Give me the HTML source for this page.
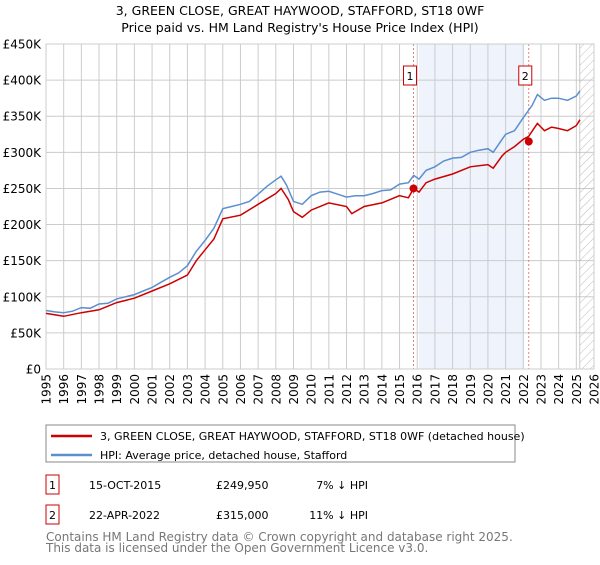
<!DOCTYPE html>
<html><head><meta charset="utf-8"><style>
body{margin:0;background:#fff;font-family:"Liberation Sans","DejaVu Sans",sans-serif;}
svg text{font-family:"DejaVu Sans","Liberation Sans",sans-serif;}
</style></head><body>
<svg id="c" width="600" height="560" xmlns="http://www.w3.org/2000/svg">
<text x="300" y="15" text-anchor="middle" font-size="12.5">3, GREEN CLOSE, GREAT HAYWOOD, STAFFORD, ST18 0WF</text>
<text x="300" y="32" text-anchor="middle" font-size="12.5">Price paid vs. HM Land Registry's House Price Index (HPI)</text>
<g id="plot"></g>
<rect x="46" y="425" width="469" height="37" fill="#fff" stroke="#888"/>
<line x1="51" y1="436" x2="92" y2="436" stroke="#cc0000" stroke-width="2.5"/>
<text x="100" y="440" font-size="11">3, GREEN CLOSE, GREAT HAYWOOD, STAFFORD, ST18 0WF (detached house)</text>
<line x1="51" y1="455" x2="92" y2="455" stroke="#5b8fd0" stroke-width="2.5"/>
<text x="100" y="459" font-size="11">HPI: Average price, detached house, Stafford</text>
<g>
<rect x="46" y="475" width="13" height="19" fill="#fff" stroke="#cc0000"/>
<text x="52.5" y="489" text-anchor="middle" font-size="11">1</text>
<text x="89" y="489" font-size="11">15-OCT-2015</text>
<text x="216" y="489" font-size="11">£249,950</text>
<text x="368" y="489" text-anchor="end" font-size="11">7% ↓ HPI</text></g>
<g>
<rect x="46" y="505" width="13" height="19" fill="#fff" stroke="#cc0000"/>
<text x="52.5" y="519" text-anchor="middle" font-size="11">2</text>
<text x="89" y="519" font-size="11">22-APR-2022</text>
<text x="216" y="519" font-size="11">£315,000</text>
<text x="368" y="519" text-anchor="end" font-size="11">11% ↓ HPI</text></g>
<text x="46" y="541" font-size="12" fill="#777">Contains HM Land Registry data © Crown copyright and database right 2025.</text>
<text x="46" y="552" font-size="12" fill="#777">This data is licensed under the Open Government Licence v3.0.</text>
</svg>
<script>
const yTicks=[0,50000,100000,150000,200000,250000,300000,350000,400000,450000];
const yTickLabels=["£0","£50K","£100K","£150K","£200K","£250K","£300K","£350K","£400K","£450K"];
const xYears=[1995,1996,1997,1998,1999,2000,2001,2002,2003,2004,2005,2006,2007,2008,2009,2010,2011,2012,2013,2014,2015,2016,2017,2018,2019,2020,2021,2022,2023,2024,2025,2026];
const hpiT=[1995,1995.5,1996,1996.5,1997,1997.5,1998,1998.5,1999,1999.5,2000,2000.5,2001,2001.5,2002,2002.5,2003,2003.5,2004,2004.5,2005,2005.5,2006,2006.5,2007,2007.5,2008,2008.3,2008.6,2009,2009.5,2010,2010.5,2011,2011.5,2012,2012.5,2013,2013.5,2014,2014.5,2015,2015.5,2015.8,2016.1,2016.5,2017,2017.5,2018,2018.5,2019,2019.5,2020,2020.3,2020.8,2021,2021.5,2022,2022.5,2022.8,2023.2,2023.6,2024,2024.5,2025,2025.2];
const hpiV=[81,79,78,80,85,84,90,91,97,100,103,108,113,120,127,133,143,163,178,195,222,225,228,232,242,253,262,267,255,232,228,240,245,246,242,238,240,240,243,247,248,256,258,268,263,275,280,288,292,293,300,303,305,300,318,325,330,348,365,380,372,375,375,372,378,385];
const propT=[1995,1996,1997,1998,1999,2000,2001,2002,2003,2003.5,2004,2004.5,2005,2006,2007,2008,2008.3,2008.7,2009,2009.5,2010,2011,2012,2012.3,2013,2014,2015,2015.5,2015.8,2016.1,2016.5,2017,2018,2019,2020,2020.3,2020.8,2021,2021.5,2022,2022.3,2022.8,2023.2,2023.6,2024,2024.5,2025,2025.2];
const propV=[77,73,78,82,92,98,108,118,130,150,165,180,208,213,228,243,250,235,218,210,220,230,225,215,225,230,240,237,250,245,258,263,270,280,283,278,295,300,308,318,322,340,330,335,333,330,337,345];
const saleT=[2015.79,2022.31];
const saleV=[249950,315000];
const X0=46,X1=594,Y0=369,Y1=44;
const xs=t=>X0+(t-1995)/31*(X1-X0);
const ys=v=>Y0-v/450000*(Y0-Y1);
const NS="http://www.w3.org/2000/svg";
const g=document.getElementById('plot');
function el(tag,attrs,parent){const e=document.createElementNS(NS,tag);for(const k in attrs)e.setAttribute(k,attrs[k]);(parent||g).appendChild(e);return e;}
const shade=el('rect',{x:xs(2016.1),y:Y1,width:xs(2022.05)-xs(2016.1),height:Y0-Y1,fill:'#eef3fc'});


yTicks.forEach((v,i)=>{
 const l=el('line',{x1:X0,x2:X1,y1:ys(v),y2:ys(v),stroke:'#ccc'});
 
 
 const t=el('text',{x:X0-5,y:ys(v)+4.5,'text-anchor':'end','font-size':'12'});t.textContent=yTickLabels[i];
 
 
});
xYears.forEach(yr=>{
 const l=el('line',{x1:xs(yr),x2:xs(yr),y1:Y1,y2:Y0,stroke:'#ccc'});
 
 
 const t=el('text',{x:0,y:0,'text-anchor':'end','font-size':'12',transform:`translate(${xs(yr)+4.5},${Y0+5}) rotate(-90)`});t.textContent=yr;
 
 
});
const defs=el('defs',{});
const pat=el('pattern',{id:'hatch',width:6,height:6,patternUnits:'userSpaceOnUse',patternTransform:'rotate(45)'},defs);
el('line',{x1:0,y1:0,x2:0,y2:6,stroke:'#bbb','stroke-width':1},pat);
const hatch=el('rect',{x:xs(2025.2),y:Y1,width:X1-xs(2025.2),height:Y0-Y1,fill:'url(#hatch)',stroke:'#999','stroke-width':0.5});


saleT.forEach((t,i)=>{
 const l=el('line',{x1:xs(t),x2:xs(t),y1:Y1,y2:Y0,stroke:'#e06060','stroke-dasharray':'2,2','stroke-width':0.8});
 
 
 const r=el('rect',{x:xs(t)-10,y:66,width:13,height:19,fill:'#fff',stroke:'#cc0000'});
 
 
 const tx=el('text',{x:xs(t)-3.5,y:80,'text-anchor':'middle','font-size':'11'});tx.textContent=String(i+1);
 
 
});
el('rect',{x:X0,y:Y1,width:X1-X0,height:Y0-Y1,fill:'none',stroke:'#ccc'});
function pts(T,V){return T.map((t,i)=>xs(t).toFixed(1)+','+ys(V[i]*1000).toFixed(1)).join(' ');}
const hl=el('polyline',{points:pts(hpiT,hpiV),fill:'none',stroke:'#5b8fd0','stroke-width':1.5});


const pl=el('polyline',{points:pts(propT,propV),fill:'none',stroke:'#cc0000','stroke-width':1.5});


saleT.forEach((t,i)=>{
 const c=el('circle',{cx:xs(t),cy:ys(saleV[i]),r:4,fill:'#cc0000'});
 
 
});
</script>
</body></html>
